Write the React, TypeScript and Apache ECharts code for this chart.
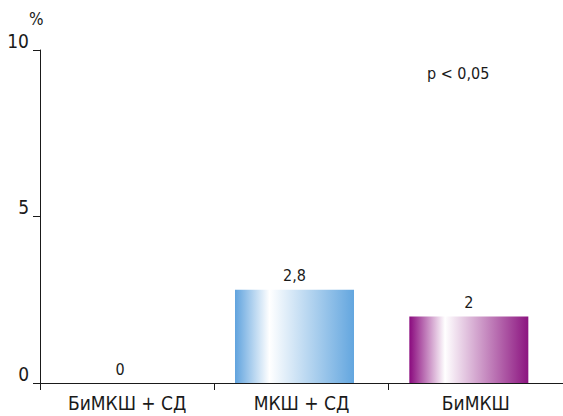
import React, { useEffect, useRef } from "react";
import * as echarts from "echarts";

const categories = ["БиМКШ + СД", "МКШ + СД", "БиМКШ"];
const values = [0, 2.8, 2];
const valueLabels = ["0", "2,8", "2"];
const yTicks = { min: 0, max: 10, interval: 5 };
const unitLabel = "%";
const noteText = "p < 0,05";

const FONT = '"Liberation Sans Narrow", "DejaVu Sans Condensed", "Arial Narrow", sans-serif';
const INK = "#1a1a1a";

const blueFill = new echarts.graphic.LinearGradient(0, 0, 1, 0, [
  { offset: 0, color: "#60a3de" },
  { offset: 0.29, color: "#ffffff" },
  { offset: 1, color: "#63a6df" },
]);
const purpleFill = new echarts.graphic.LinearGradient(0, 0, 1, 0, [
  { offset: 0, color: "#8a0a7e" },
  { offset: 0.3, color: "#ffffff" },
  { offset: 1, color: "#8c1480" },
]);
const fills = ["#ffffff", blueFill, purpleFill];

export default function App() {
  const ref = useRef<HTMLDivElement>(null);

  useEffect(() => {
    if (!ref.current) return;
    const chart = echarts.init(ref.current, null, { renderer: "svg" });
    chart.setOption({
      animation: false,
      backgroundColor: "#ffffff",
      textStyle: { fontFamily: FONT, color: INK },
      grid: { left: 40, right: -2, top: 50, bottom: 33, containLabel: false },
      xAxis: {
        type: "category",
        data: categories,
        axisLine: { lineStyle: { color: INK, width: 1 } },
        axisTick: { show: true, length: 7, lineStyle: { color: INK } },
        axisLabel: { color: INK, fontSize: 19, fontFamily: FONT, margin: 10 },
      },
      yAxis: {
        type: "value",
        min: yTicks.min,
        max: yTicks.max,
        interval: yTicks.interval,
        splitLine: { show: false },
        axisLine: { show: true, lineStyle: { color: INK, width: 1 } },
        axisTick: { show: true, length: 7, lineStyle: { color: INK } },
        axisLabel: {
          color: INK,
          fontSize: 19,
          fontFamily: FONT,
          margin: 11,
          verticalAlign: "bottom",
        },
      },
      series: [
        {
          type: "bar",
          barWidth: 119,
          barGap: "0%",
          data: values.map((v, i) => ({
            value: v,
            itemStyle: { color: fills[i] },
          })),
          label: {
            show: true,
            position: "top",
            distance: 6,
            fontSize: 16,
            fontFamily: FONT,
            color: INK,
            formatter: (p: any) => valueLabels[p.dataIndex],
          },
        },
        {
          // spacer that keeps the bars slightly left of each category centre
          type: "bar",
          barWidth: 14,
          data: values.map(() => 0),
          itemStyle: { color: "rgba(0,0,0,0)" },
          label: { show: false },
          silent: true,
        },
      ],
      graphic: [
        {
          type: "text",
          left: 29,
          top: 10,
          style: { text: unitLabel, fontSize: 17, fontFamily: FONT, fill: INK },
        },
        {
          type: "text",
          left: 427,
          top: 65,
          style: { text: noteText, fontSize: 16, fontFamily: FONT, fill: INK },
        },
      ],
    });
    return () => chart.dispose();
  }, []);

  return (
    <div
      ref={ref}
      style={{ position: "absolute", left: 0, top: 0, width: 563, height: 416 }}
    />
  );
}
